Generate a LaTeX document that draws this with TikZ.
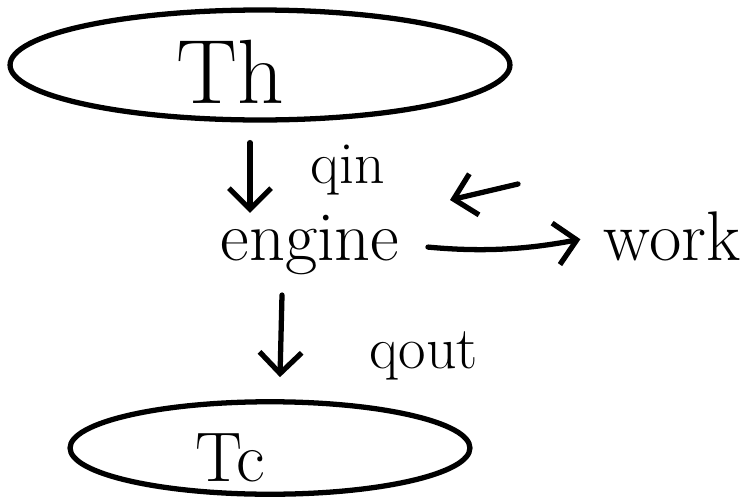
\documentclass[tikz,border=0pt]{standalone}
\usetikzlibrary{positioning,arrows.meta,shapes.geometric,calc}
\tikzset{
  pen/.style={line width=3pt,line cap=round},
  reservoir/.style={draw,ellipse,pen,inner sep=0pt},
  flow/.style={pen,-{Straight Barb[length=12pt,width=24pt,line width=3pt]}},
  big/.style={font=\fontsize{52}{56}\selectfont},
  mid/.style={font=\fontsize{40}{44}\selectfont},
  small/.style={font=\fontsize{34}{38}\selectfont}
}

\begin{document}
\begin{tikzpicture}[x=0.02cm,y=-0.02cm]
    \useasboundingbox (0,0) rectangle (745,501);
    \node[reservoir,minimum width=10cm,minimum height=2.2cm] (hot) at (260,65) {};
    \node[reservoir,minimum width=8cm,minimum height=1.85cm] (cold) at (270,448) {};
    \node[big] (th) at (230,72) {Th}; %label
    \node[mid] (tc) at (230,458) {Tc}; %label
    \node[mid] (engine) at (310,245) {engine}; %label
    \node[mid] (work) at (672,236) {work}; %label
    \node[small] (qin) at (348,170) {qin}; %label
    \node[small] (qout) at (424,356) {qout}; %label
    \coordinate (back start) at (518,184);
    \coordinate (back end) at (450,200);
    \draw[flow] ($(hot.south)+(-10,20)$) -- ($(engine.north)+(-60,4)$);
    \draw[flow] ($(engine.south)+(-28,14)$) -- ($(cold.north)+(10,-22)$);
    \draw[flow,shorten <=0.45cm,shorten >=0.35cm] (engine.east) to[bend right=8] (work.west);
    \draw[flow] (back start) -- (back end);
\end{tikzpicture}
\end{document}
